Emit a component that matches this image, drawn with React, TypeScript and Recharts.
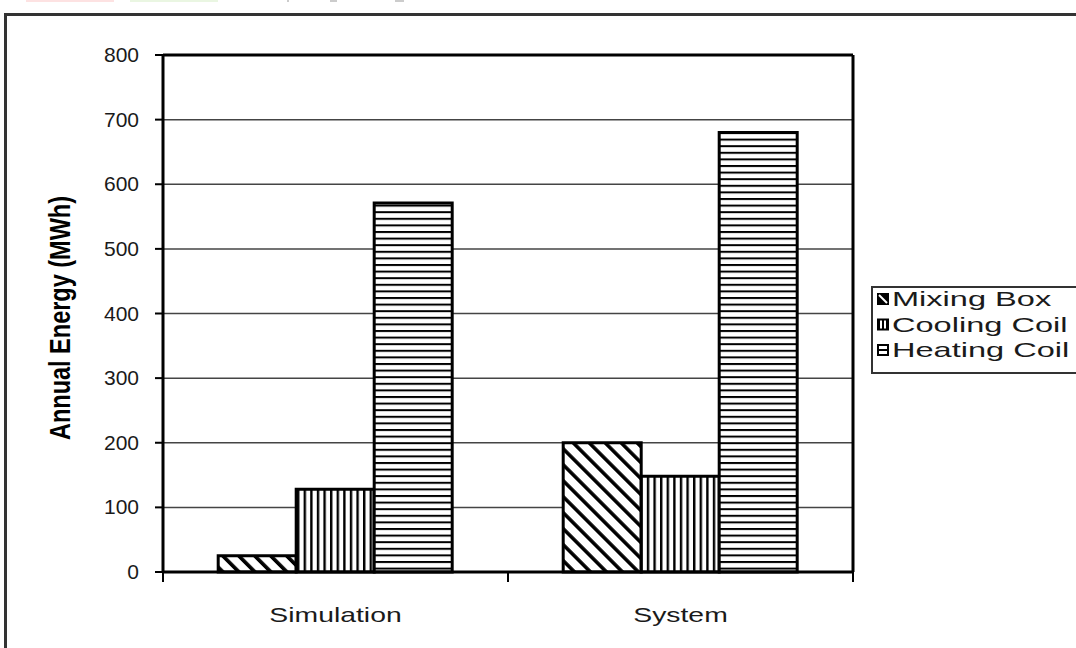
import { BarChart, Bar, XAxis, YAxis, CartesianGrid } from "recharts";

const categories = ["Simulation", "System"];
const mixingBox = [25, 200];
const coolingCoil = [128, 148];
const heatingCoil = [571, 680];
const yTicks = [0, 100, 200, 300, 400, 500, 600, 700, 800];
const seriesNames = ["Mixing Box", "Cooling Coil", "Heating Coil"];
const seriesKeys = ["mixing", "cooling", "heating"];
const yLabel = "Annual Energy (MWh)";

const data = categories.map((name, i) => ({
  name,
  mixing: mixingBox[i],
  cooling: coolingCoil[i],
  heating: heatingCoil[i],
}));

const font = "'Liberation Sans', Arial, sans-serif";

// the source picture is stretched sideways, so text is widened to match
let ctx: CanvasRenderingContext2D | null = null;
const measure = (s: string, size: number) => {
  if (!ctx) ctx = document.createElement("canvas").getContext("2d");
  if (!ctx) return s.length * size * 0.5;
  ctx.font = `${size}px ${font}`;
  return ctx.measureText(s).width;
};

const XTick = (props: any) => {
  const { x, y, payload, index, visibleTicksCount } = props;
  const half = payload?.offset ?? 172.5;
  const last = index === visibleTicksCount - 1;
  const label = String(payload.value);
  return (
    <g>
      <line x1={x - half} x2={x - half} y1={y} y2={y + 10} stroke="#000" strokeWidth={2} />
      {last && <line x1={x + half} x2={x + half} y1={y} y2={y + 10} stroke="#000" strokeWidth={2} />}
      <text
        x={x}
        y={y + 50}
        textAnchor="middle"
        fontSize={21}
        fontFamily={font}
        fill="#1a1a1a"
        textLength={measure(label, 21) * 1.35}
        lengthAdjust="spacingAndGlyphs"
      >
        {label}
      </text>
    </g>
  );
};

const YTick = (props: any) => {
  const { x, y, payload } = props;
  return (
    <text x={x} y={y} dy={7} textAnchor="end" fontSize={21} fontFamily={font} fill="#1a1a1a">
      {payload.value}
    </text>
  );
};

const patterns = (
  <defs>
    <pattern id="pMix" patternUnits="userSpaceOnUse" width="11.3" height="11.3" patternTransform="rotate(-45)">
      <rect width="11.3" height="11.3" fill="#fff" />
      <rect width="3.6" height="11.3" fill="#000" />
    </pattern>
    <pattern id="pCool" patternUnits="userSpaceOnUse" width="6.6" height="6.6">
      <rect width="6.6" height="6.6" fill="#fff" />
      <rect width="2.4" height="6.6" fill="#000" />
    </pattern>
    <pattern id="pHeat" patternUnits="userSpaceOnUse" width="6.6" height="6.6">
      <rect width="6.6" height="6.6" fill="#fff" />
      <rect width="6.6" height="2" fill="#000" />
    </pattern>
  </defs>
);

const fills = ["url(#pMix)", "url(#pCool)", "url(#pHeat)"];

const LegendIcon = ({ i, y }: { i: number; y: number }) => (
  <g transform={`translate(6 ${y - 6})`}>
    {i === 0 && (
      <g>
        <rect x={0} y={0} width={12} height={12} fill="#000" />
        <path d="M2 2 L10 10" stroke="#fff" strokeWidth={2} />
      </g>
    )}
    {i === 1 && (
      <g>
        <rect x={0} y={0} width={12} height={12} fill="#000" />
        <rect x={3} y={2} width={2} height={8} fill="#fff" />
        <rect x={7} y={2} width={2} height={8} fill="#fff" />
      </g>
    )}
    {i === 2 && (
      <g>
        <rect x={1} y={1} width={10} height={10} fill="#fff" stroke="#000" strokeWidth={2} />
        <rect x={1} y={5} width={10} height={2} fill="#000" />
      </g>
    )}
  </g>
);

export default function App() {
  return (
    <div style={{ position: "fixed", inset: 0, overflow: "hidden", background: "#fff" }}>
      {/* faint fragments at the very top */}
      <div style={{ position: "absolute", left: 26, top: 0, width: 88, height: 2, background: "#fde2e2" }} />
      <div style={{ position: "absolute", left: 130, top: 0, width: 88, height: 2, background: "#eaf6e2" }} />
      <div style={{ position: "absolute", left: 287, top: 0, width: 2, height: 2, background: "#ccc" }} />
      <div style={{ position: "absolute", left: 330, top: 0, width: 7, height: 2, background: "#ccc" }} />
      <div style={{ position: "absolute", left: 395, top: 0, width: 9, height: 2, background: "#ccc" }} />

      <div
        style={{
          position: "absolute",
          left: 4,
          top: 13,
          width: 1200,
          height: 800,
          border: "3px solid #333",
          boxSizing: "border-box",
        }}
      />

      <div style={{ position: "absolute", left: 0, top: 0 }}>
        <BarChart
          width={1076}
          height={648}
          data={data}
          margin={{ top: 54, right: 222, bottom: 16, left: 103 }}
          barCategoryGap="16%"
          barGap={0}
        >
          {patterns}
          <CartesianGrid xAxisId="cat" yAxisId="l" vertical={false} stroke="#444" strokeWidth={1.5} />
          <XAxis
            xAxisId="cat"
            dataKey="name"
            height={60}
            axisLine={{ stroke: "#000", strokeWidth: 3 }}
            tickLine={false}
            tickSize={0}
            tickMargin={0}
            tick={<XTick />}
            interval={0}
          />
          <XAxis
            xAxisId="top"
            dataKey="name"
            orientation="top"
            height={1}
            axisLine={{ stroke: "#000", strokeWidth: 3 }}
            tick={false}
            tickLine={false}
          />
          <YAxis
            yAxisId="l"
            domain={[0, 800]}
            ticks={yTicks}
            width={60}
            axisLine={{ stroke: "#000", strokeWidth: 3 }}
            tickLine={{ stroke: "#000", strokeWidth: 2 }}
            tickSize={8}
            tickMargin={16}
            tick={<YTick />}
            interval={0}
          />
          <YAxis
            yAxisId="r"
            orientation="right"
            domain={[0, 800]}
            width={1}
            axisLine={{ stroke: "#000", strokeWidth: 3 }}
            tick={false}
            tickLine={false}
          />
          {seriesKeys.map((k, i) => (
            <Bar
              key={k}
              xAxisId="cat"
              yAxisId="l"
              dataKey={k}
              name={seriesNames[i]}
              fill={fills[i]}
              stroke="#000"
              strokeWidth={3}
              isAnimationActive={false}
            />
          ))}
        </BarChart>
      </div>

      {/* y axis title */}
      <svg style={{ position: "absolute", left: 0, top: 0 }} width={120} height={648}>
        <text
          transform="translate(70 318) scale(1.3 1) rotate(-90)"
          textAnchor="middle"
          fontSize={22}
          fontWeight="bold"
          fontFamily={font}
          fill="#000"
          textLength={244}
          lengthAdjust="spacingAndGlyphs"
        >
          {yLabel}
        </text>
      </svg>

      {/* legend */}
      <svg style={{ position: "absolute", left: 871, top: 286 }} width={210} height={88}>
        <rect x={1} y={1} width={260} height={86} fill="#fff" stroke="#333" strokeWidth={2} />
        {seriesNames.map((s, i) => {
          const cy = 13 + i * 25.5;
          return (
            <g key={s}>
              <LegendIcon i={i} y={cy} />
              <text
                x={21}
                y={cy + 7}
                fontSize={21}
                fontFamily={font}
                fill="#1a1a1a"
                textLength={measure(s, 21) * 1.55}
                lengthAdjust="spacingAndGlyphs"
              >
                {s}
              </text>
            </g>
          );
        })}
      </svg>
    </div>
  );
}
